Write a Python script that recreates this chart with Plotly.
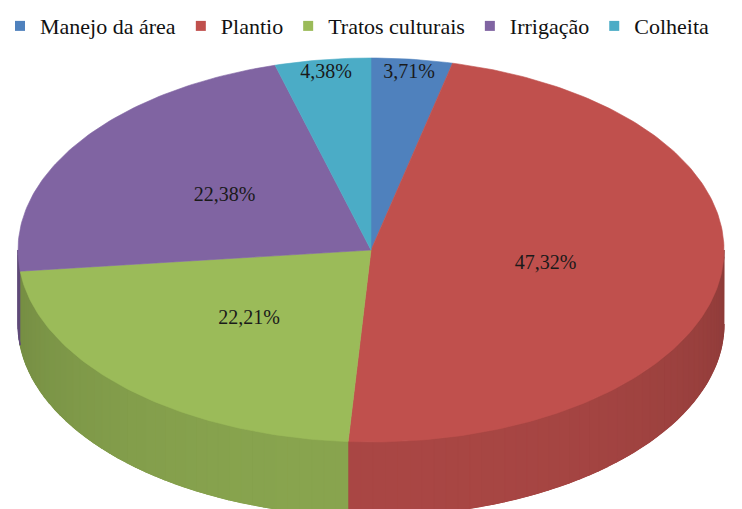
import numpy as np
import plotly.graph_objects as go

# Share of cost by production stage (%)
categories = ["Manejo da área", "Plantio", "Tratos culturais", "Irrigação", "Colheita"]
shares = [3.71, 47.32, 22.21, 22.38, 4.38]
colors = ["#4F81BD", "#C0504D", "#9BBB59", "#8064A2", "#4BACC6"]

W, H = 742, 509
CX, CY = 371, 250          # centre of the top face
RX, RY = 353, 192          # semi-axes of the tilted disc
DEPTH = 74                 # visible thickness of the disc
FONT = "Liberation Serif"


def proj(theta, r=1.0, drop=0.0):
    """Project an angle (clockwise from 12 o'clock) onto the tilted disc."""
    return CX + RX * r * np.sin(theta), CY - RY * r * np.cos(theta) + drop


def shade(hex_color, f):
    h = hex_color.lstrip("#")
    rgb = [int(h[i:i + 2], 16) for i in (0, 2, 4)]
    return "rgb({},{},{})".format(*[max(0, min(255, round(c * f))) for c in rgb])


def rim_factor(theta):
    # darker towards the sides of the disc, lighter at the front
    return 0.74 + 0.14 * (-np.cos(theta))


total = sum(shares)
bounds = np.concatenate([[0.0], np.cumsum(shares)]) / total * 2 * np.pi

fig = go.Figure()

# Rim of the disc: only the front half (pi/2 .. 3pi/2) is visible
step = np.radians(2.0)
for i, col in enumerate(colors):
    a = max(bounds[i], np.pi / 2)
    b = min(bounds[i + 1], 3 * np.pi / 2)
    if b <= a:
        continue
    # solid base under the shaded strips
    ts = np.linspace(a, b, 60)
    xt, yt = proj(ts)
    xb, yb = proj(ts[::-1], drop=DEPTH)
    base = shade(col, rim_factor(0.5 * (a + b)))
    fig.add_trace(go.Scatter(
        x=np.concatenate([xt, xb]), y=np.concatenate([yt, yb]),
        mode="lines", fill="toself", fillcolor=base,
        line=dict(color=base, width=1),
        hoverinfo="skip", showlegend=False))
    n = max(1, int(np.ceil((b - a) / step)))
    edges = np.linspace(a, b, n + 1)
    for t0, t1 in zip(edges[:-1], edges[1:]):
        ts = np.linspace(t0, t1, 4)
        xt, yt = proj(ts)
        xb, yb = proj(ts[::-1], drop=DEPTH)
        c = shade(col, rim_factor(0.5 * (t0 + t1)))
        fig.add_trace(go.Scatter(
            x=np.concatenate([xt, xb]), y=np.concatenate([yt, yb]),
            mode="lines", fill="toself", fillcolor=c,
            line=dict(color=c, width=1.2),
            hoverinfo="skip", showlegend=False))

# Top faces of the slices
for i, col in enumerate(colors):
    ts = np.linspace(bounds[i], bounds[i + 1], max(8, int(shares[i] * 4)))
    xa, ya = proj(ts)
    fig.add_trace(go.Scatter(
        x=np.concatenate([[CX], xa, [CX]]), y=np.concatenate([[CY], ya, [CY]]),
        mode="lines", fill="toself", fillcolor=col,
        line=dict(color=col, width=0.6),
        hoverinfo="skip", showlegend=False))

# Percentage labels: inside for large slices, near the rim for thin ones
mids = 0.5 * (bounds[:-1] + bounds[1:])
lab_r = [0.5 if s > 10 else 0.93 for s in shares]
lx, ly = proj(mids, r=np.array(lab_r))
fig.add_trace(go.Scatter(
    x=lx, y=ly, mode="text",
    text=[f"{s:.2f}".replace(".", ",") + "%" for s in shares],
    textfont=dict(family=FONT, size=20, color="#1a1a1a"),
    hoverinfo="skip", showlegend=False))

# Legend entries
for name, col in zip(categories, colors):
    fig.add_trace(go.Scatter(
        x=[None], y=[None], mode="markers", name=name,
        marker=dict(symbol="square", size=10, color=col)))

fig.update_layout(
    width=W, height=H,
    margin=dict(l=0, r=0, t=0, b=0),
    font=dict(family=FONT, size=20, color="#111111"),
    paper_bgcolor="white", plot_bgcolor="white",
    xaxis=dict(range=[0, W], visible=False, fixedrange=True),
    yaxis=dict(range=[H, 0], visible=False, fixedrange=True),
    legend=dict(orientation="h", x=0.0, xanchor="left", y=0.99, yanchor="top",
                font=dict(family=FONT, size=22, color="#111111"),
                bgcolor="rgba(0,0,0,0)", itemclick=False),
    showlegend=True,
)

fig.write_html("out.html")
